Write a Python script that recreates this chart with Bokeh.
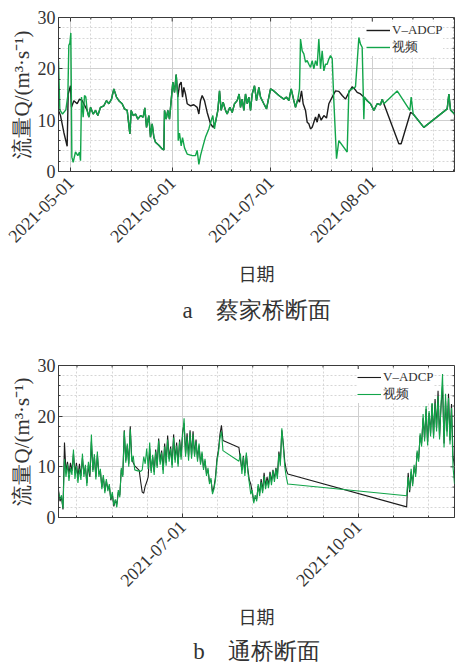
import math
import numpy as np
import pandas as pd
from bokeh.plotting import figure
from bokeh.layouts import column
from bokeh.models import FixedTicker, DatetimeTickFormatter, Range1d, Title
from bokeh.embed import file_html
from bokeh.resources import INLINE

# ---------------- 蔡家桥断面 (days after 2021-05-01, discharge m3/s) ----------------
CAI_ORIGIN = "2021-05-01"
CAI_ADCP_DAY = [-3.66, -3.05, -2.03, -1.02, -0.71, 0.0, 0.30, 1.02, 2.03, 2.74, 3.56,
                5.08, 5.59, 6.10, 6.91, 7.62, 8.33, 9.15, 10.16, 10.98, 11.69, 12.50, 13.21,
                14.02, 14.74, 15.75, 16.46, 17.28, 18.09, 18.50, 19.11, 19.82, 20.53, 21.34,
                22.15, 22.66, 23.17, 23.88, 24.39, 24.90, 25.41, 25.91, 26.93, 27.95, 28.46,
                28.66, 29.17, 29.67, 30.18, 30.69, 31.20, 31.71, 32.22, 32.72,
                33.23, 33.74, 34.15, 34.55, 35.06, 35.57, 36.59, 37.60, 38.62, 39.13, 39.63,
                40.14, 40.85, 41.67, 42.68, 43.50, 44.21,
                44.92, 45.43, 45.93, 46.54, 47.26, 47.76, 48.58, 49.29, 50.00, 50.81, 51.42,
                51.83, 52.34, 52.85, 53.35, 53.86, 54.37, 54.88, 55.39, 56.10, 56.71, 57.42,
                57.93, 58.94, 59.76, 60.47, 60.98, 61.99, 63.52, 65.04, 65.85, 66.57, 67.28,
                68.09, 68.60, 69.31,
                69.82, 70.43, 70.93, 71.65, 72.15, 72.66, 73.17, 73.68, 74.19, 74.70, 75.20,
                75.71, 76.42, 77.24, 78.05, 78.76, 79.78, 80.79, 81.81, 82.83, 83.84, 84.86,
                85.87, 86.59, 87.40, 88.41, 89.43, 90.45,
                91.46, 92.48, 93.50, 94.51, 95.02, 95.53, 100.10, 100.81, 103.66, 104.47,
                107.72, 114.84, 115.35, 115.85, 117.07]
CAI_ADCP_Q = [11.9, 10.9, 7.6, 4.9, 15.1, 16.7, 12.5, 13.8, 13.2, 14.1, 13.8,
              11.9, 10.6, 12.5, 11.2, 11.9, 10.9, 12.5, 12.8, 13.8, 13.2, 14.1, 16.1,
              14.5, 13.8, 13.2, 12.2, 11.9, 7.3, 11.9, 10.9, 11.2, 10.2, 10.9,
              10.6, 12.4, 8.6, 10.9, 6.7, 9.3, 6.7, 5.7, 5.1, 4.4, 4.2,
              11.9, 10.2, 11.9, 10.2, 13.8, 17.4, 15.4, 18.9, 14.5,
              16.9, 17.4, 14.5, 16.4, 15.1, 13.2, 12.8, 13.0, 12.5, 11.2, 13.8,
              14.8, 13.8, 11.5, 9.3, 8.6, 9.6,
              11.9, 15.7, 11.9, 13.5, 11.9, 11.2, 12.5, 11.5, 13.2, 13.8, 15.1,
              12.5, 14.1, 11.9, 15.1, 13.2, 14.5, 11.9, 15.1, 16.7, 13.8, 16.4,
              14.5, 13.2, 12.2, 14.5, 16.1, 15.7, 14.8, 14.1, 14.5, 13.8, 16.1,
              13.8, 12.5, 14.1,
              13.5, 15.7, 13.2, 11.9, 9.6, 9.3, 8.3, 8.6, 9.6, 10.6, 9.6,
              11.2, 10.0, 10.9, 10.4, 13.2, 14.5, 15.7, 15.6, 14.8, 14.1, 15.4,
              16.5, 16.1, 15.4, 15.1, 14.5, 13.8,
              13.2, 11.9, 13.2, 13.0, 14.1, 13.2, 5.4, 5.4, 11.5, 11.2,
              8.6, 12.2, 15.1, 12.0, 11.2]

CAI_VIDEO_DAY = [-3.66, -3.25, -2.44, -1.42, -0.81, -0.51, -0.20, 0.10, 0.41, 0.81, 1.52,
                 2.24, 2.74, 3.05, 3.35, 3.86, 4.27, 4.67,
                 5.08, 5.59, 6.10, 6.91, 7.62, 8.33, 9.15, 10.16, 10.98, 11.69, 12.50, 13.21,
                 14.02, 14.74, 15.75, 16.46, 17.28, 18.09, 18.50, 19.11, 19.82, 20.53, 21.34,
                 22.15, 22.66, 23.17, 23.88, 24.39, 24.90, 25.41, 25.91, 26.93, 27.95, 28.46,
                 28.66, 29.17, 29.67, 30.18, 30.69, 31.20, 31.71, 32.22, 32.72,
                 32.83, 33.23, 33.74, 34.15, 34.76, 35.57, 37.09, 38.11, 38.62, 39.13, 39.63,
                 40.45, 41.16, 42.17, 42.89, 43.39, 43.90,
                 44.21, 44.92, 45.43, 45.93, 46.54, 47.26, 47.76, 48.58, 49.29, 50.00, 50.81,
                 51.42, 51.83, 52.34, 52.85, 53.35, 53.86, 54.37, 54.88, 55.39, 56.10, 56.71,
                 57.42, 57.93, 58.94, 59.76, 60.47, 60.98, 61.99, 63.52, 65.04, 65.85, 66.57,
                 67.28, 68.09, 68.60, 69.31,
                 69.82, 70.12, 70.63, 71.14, 71.65, 72.15, 72.66, 73.17, 73.68, 74.19, 74.70,
                 75.20, 75.71, 76.22, 76.73, 77.24, 77.74, 78.25, 78.76, 79.27, 79.78, 80.28,
                 81.10, 81.81, 84.35, 84.86, 85.87, 86.89, 87.91, 88.41, 88.92, 89.43, 89.63,
                 90.45, 91.46, 92.48, 93.50, 94.51, 95.02, 95.53, 99.59, 103.46, 103.86,
                 104.47, 107.72, 114.84, 115.35, 115.85, 117.07]
CAI_VIDEO_Q = [21.6, 12.0, 11.2, 12.0, 14.8, 24.6, 25.0, 27.0, 2.8, 1.8, 3.8,
               3.1, 3.8, 2.1, 14.5, 10.6, 14.8, 14.5,
               11.9, 10.6, 12.5, 11.2, 11.9, 10.9, 12.5, 12.8, 13.8, 13.2, 14.1, 16.1,
               14.5, 13.8, 13.2, 12.2, 11.9, 7.3, 11.9, 10.9, 11.2, 10.2, 10.9,
               10.6, 12.4, 8.6, 10.9, 6.7, 9.3, 6.7, 5.7, 5.1, 4.4, 4.2,
               11.9, 10.2, 11.9, 10.2, 13.8, 17.4, 15.4, 18.9, 14.5,
               6.0, 7.5, 5.0, 6.6, 4.6, 3.4, 3.1, 3.1, 4.1, 1.4, 3.1,
               5.1, 6.7, 8.3, 9.9, 10.9, 8.3,
               9.6, 11.9, 15.7, 11.9, 13.5, 11.9, 11.2, 12.5, 11.5, 13.2, 13.8,
               15.1, 12.5, 14.1, 11.9, 15.1, 13.2, 14.5, 11.9, 15.1, 16.7, 13.8,
               16.4, 14.5, 13.2, 12.2, 14.5, 16.1, 15.7, 14.8, 14.1, 14.5, 13.8,
               16.1, 13.8, 12.5, 14.1,
               16.1, 25.8, 23.5, 22.9, 21.3, 21.6, 20.9, 20.3, 21.6, 20.0, 21.6,
               20.6, 25.8, 20.0, 23.5, 19.6, 20.9, 20.9, 21.9, 22.6, 22.0, 13.8,
               2.5, 6.0, 3.8, 15.7, 16.1, 16.5, 26.1, 24.8, 24.2, 10.2, 14.5,
               13.8, 13.2, 11.9, 13.2, 13.0, 14.1, 13.2, 15.7, 11.9, 14.5,
               11.2, 8.6, 12.2, 15.1, 12.0, 11.2]

CAI_MONTHS = ["2021-05-01", "2021-06-01", "2021-07-01", "2021-08-01"]
CAI_VIEW = ("2021-04-27 08:10", "2021-08-26 01:40")

# ---------------- 通桥断面 (regularly sampled records in three runs) ----------------
TONG_RUNS = [("2021-04-27 03:00", "2021-07-22 05:00"),
             ("2021-07-30 14:00", "2021-08-25 03:00"),
             ("2021-10-26 09:00", "2021-11-20 10:00")]
TONG_VIDEO_Q = [
    [5.0, 3.6, 4.4, 1.8, 11.5, 8.0, 10.5, 7.2, 9.8, 8.4, 13.4, 7.6, 10.2, 6.8, 9.6, 7.4,
     12.6, 8.0, 10.4, 6.2, 11.0, 8.5, 16.4, 9.0, 12.5, 7.5, 13.0, 8.0, 9.6, 5.6, 8.4, 4.8,
     7.6, 5.2, 6.6, 3.6, 5.0, 2.4, 3.6, 2.0, 5.4, 4.0, 9.8, 8.0, 17.0, 10.8, 14.6, 10.0,
     17.4, 11.0, 12.2, 9.4, 9.3, 9.2, 9.2, 9.1, 9.4, 12.0, 10.6, 13.6, 9.6, 14.8, 8.8, 12.4,
     8.4, 13.0, 9.8, 15.2, 10.4, 12.8, 8.6, 14.0, 10.2, 15.4, 11.0, 13.6, 9.8, 15.8, 10.8,
     14.2, 10.0, 15.0, 11.4, 16.2, 19.6, 12.0, 16.0, 11.2, 16.8, 11.6, 16.4, 12.0, 15.0,
     11.0, 14.6, 10.4, 13.0, 9.4, 11.6, 8.2, 9.8, 6.6, 7.8, 4.6, 5.6, 7.4, 11.0, 12.8,
     15.6, 17.0, 13.2],
    [11.1, 12.6, 8.6, 12.0, 8.2, 12.8, 9.0, 6.8, 4.6, 5.4, 2.8, 4.4, 3.2, 6.6, 4.2, 7.0,
     4.8, 8.2, 5.6, 7.4, 5.8, 8.6, 6.4, 9.2, 7.0, 9.6, 7.6, 12.6, 10.2, 17.6, 14.0, 10.0,
     8.0, 6.6],
    [4.3, 8.0, 5.4, 9.6, 6.2, 10.4, 8.0, 13.2, 11.0, 16.6, 14.0, 20.4, 15.0, 22.0, 14.2,
     21.0, 16.0, 23.0, 15.6, 22.6, 17.0, 24.0, 15.4, 22.4, 28.3, 13.8, 24.4, 16.0, 23.6,
     14.4, 21.6, 10.0, 6.6],
]
TONG_ADCP_Q = [
    [5.4, 3.2, 4.0, 1.6, 14.8, 9.0, 11.0, 8.6, 10.8, 9.2, 12.6, 8.8, 10.8, 8.0, 10.6, 8.2,
     11.8, 8.6, 10.0, 6.8, 10.4, 8.0, 15.0, 9.4, 12.0, 8.0, 12.4, 8.6, 9.2, 6.0, 8.0, 5.2,
     7.2, 5.6, 6.2, 3.4, 4.6, 2.2, 3.4, 2.6, 5.0, 4.4, 9.4, 8.4, 17.2, 11.2, 14.2, 10.6,
     18.0, 11.6, 10.8, 10.2, 9.9, 9.6, 9.3, 7.0, 5.0, 4.8, 6.2, 7.0, 8.0, 13.6, 9.2, 12.0,
     9.0, 13.4, 10.2, 15.6, 11.0, 13.2, 9.4, 14.6, 10.8, 16.2, 11.6, 14.0, 10.4, 16.4, 11.4,
     14.8, 10.6, 15.4, 12.0, 16.8, 18.6, 12.6, 16.6, 12.0, 17.2, 12.2, 17.0, 12.4, 15.4,
     11.6, 14.2, 10.8, 12.6, 9.8, 11.2, 8.6, 9.4, 7.0, 7.4, 5.0, 6.0, 8.0, 11.6, 13.4,
     16.4, 18.2, 15.2],
    [13.8, 11.4, 9.4, 12.2, 8.8, 12.4, 9.6, 7.4, 6.6, 5.0, 3.2, 4.0, 3.6, 6.2, 4.8, 7.6,
     5.2, 8.8, 6.2, 8.0, 6.4, 9.0, 7.0, 9.4, 7.6, 9.8, 8.2, 13.0, 11.0, 17.2, 14.6, 11.0,
     9.4, 8.6],
    [2.1, 8.8, 5.0, 9.0, 6.6, 10.0, 8.6, 12.8, 11.6, 16.2, 14.6, 19.6, 15.6, 21.4, 14.8,
     20.6, 16.6, 22.4, 16.2, 23.4, 17.6, 25.0, 16.0, 22.0, 26.0, 14.6, 23.0, 17.0, 24.4,
     15.2, 22.4, 12.0, 10.2],
]
TONG_QUARTERS = ["2021-07-01", "2021-10-01"]
TONG_VIEW = ("2021-04-27 03:00", "2021-11-20 10:00")

Y_TICKS = [0, 10, 20, 30]
Y_MINOR = [2, 4, 6, 8, 12, 14, 16, 18, 22, 24, 26, 28]

SERIF = "Liberation Serif"
CJK = "Noto Sans CJK SC"
BLACK = "#1c1c1c"
GREEN = "#12a54a"
EDGE = "#3a3a3a"
TEXT = "#333333"


def ms(t):
    return pd.Timestamp(t).value / 1e6


def day_times(origin, days):
    return pd.Timestamp(origin) + pd.to_timedelta(np.asarray(days, dtype=float), unit="D")


def run_times(runs, series):
    parts = [np.asarray(pd.date_range(t0, t1, periods=len(v))) for (t0, t1), v in zip(runs, series)]
    return np.concatenate(parts), np.concatenate([np.asarray(v, float) for v in series])


def minor_between(majors, sub, view, step_days):
    pts = []
    m = [ms(t) for t in majors]
    for a, b in zip(m[:-1], m[1:]):
        pts += list(np.linspace(a, b, sub + 1)[1:-1])
    step = step_days * 86400000.0
    lo, hi = ms(view[0]), ms(view[1])
    v = m[0] - step
    while v >= lo:
        pts.append(v)
        v -= step
    v = m[-1] + step
    while v <= hi:
        pts.append(v)
        v += step
    return m, sorted(pts)


def panel(height, top, bottom, left, view, majors, minors, label_gap):
    xt = FixedTicker(ticks=majors, minor_ticks=minors)
    yt = FixedTicker(ticks=Y_TICKS, minor_ticks=Y_MINOR)
    x0, x1 = ms(view[0]), ms(view[1])
    p = figure(width=455, height=height, x_axis_type="datetime", output_backend="svg",
               toolbar_location=None, x_range=Range1d(x0, x1),
               y_range=Range1d(0, 30), min_border_left=left, min_border_right=1,
               min_border_top=top, min_border_bottom=bottom)
    p.title.visible = False
    p.outline_line_color = EDGE
    p.outline_line_width = 1

    fmt = "%Y-%m-%d"
    p.xaxis.ticker = xt
    p.xaxis.formatter = DatetimeTickFormatter(
        microseconds=fmt, milliseconds=fmt, seconds=fmt, minsec=fmt, minutes=fmt,
        hourmin=fmt, hours=fmt, days=fmt, months=fmt, years=fmt)
    p.xaxis.major_label_orientation = math.pi / 4
    p.yaxis.ticker = yt
    for ax in (p.xaxis[0], p.yaxis[0]):
        ax.axis_line_color = EDGE
        ax.major_tick_line_color = EDGE
        ax.minor_tick_line_color = EDGE
        ax.major_tick_in = 4
        ax.major_tick_out = 0
        ax.minor_tick_in = 2
        ax.minor_tick_out = 0
        ax.major_label_text_font = SERIF
        ax.major_label_text_font_size = "18px"
        ax.major_label_text_color = TEXT
    p.yaxis.major_label_standoff = 3
    p.xaxis.major_label_standoff = label_gap

    p.yaxis.axis_label = "流量Q/(m³·s⁻¹)"
    p.yaxis.axis_label_text_font = SERIF
    p.yaxis.axis_label_text_font_style = "normal"
    p.yaxis.axis_label_text_font_size = "21px"
    p.yaxis.axis_label_text_color = TEXT
    p.yaxis.axis_label_standoff = 1

    # tick marks mirrored on the top and right edges of the box
    p.ray(x=majors, y=30, length=4, angle=-math.pi / 2, length_units="screen",
          color=EDGE, line_width=1)
    p.ray(x=minors, y=30, length=2, angle=-math.pi / 2, length_units="screen",
          color=EDGE, line_width=1)
    p.ray(x=x1, y=Y_TICKS, length=4, angle=math.pi, length_units="screen",
          color=EDGE, line_width=1)
    p.ray(x=x1, y=Y_MINOR, length=2, angle=math.pi, length_units="screen",
          color=EDGE, line_width=1)

    p.xgrid.ticker = xt
    p.ygrid.ticker = yt
    for g in (p.xgrid[0], p.ygrid[0]):
        g.grid_line_color = "#cfcfcf"
        g.grid_line_width = 1
        g.minor_grid_line_color = "#d6d6d6"
        g.minor_grid_line_dash = "2 2"
        g.minor_grid_line_width = 1
    return p


def style_legend(p, loc):
    lg = p.legend[0]
    lg.location = loc
    lg.label_text_font = SERIF
    lg.label_text_font_size = "13px"
    lg.label_text_color = TEXT
    lg.glyph_width = 24
    lg.glyph_height = 14
    lg.label_height = 14
    lg.label_standoff = 2
    lg.spacing = 0
    lg.padding = 2
    lg.margin = 0
    lg.border_line_color = None
    lg.background_fill_color = "white"
    lg.background_fill_alpha = 1


def captions(p, xlabel_shift, xlabel_gap, caption, caption_shift, caption_gap):
    p.add_layout(Title(text="日期", align="center", offset=xlabel_shift, standoff=xlabel_gap,
                       text_font=CJK, text_font_size="18px", text_font_style="normal",
                       text_color=TEXT), "below")
    p.add_layout(Title(text=caption, align="center", offset=caption_shift, standoff=caption_gap,
                       text_font=SERIF, text_font_size="23px", text_font_style="normal",
                       text_color=TEXT), "below")


# ---- panel a ----
a_major, a_minor = minor_between(CAI_MONTHS, 5, CAI_VIEW, 6.2)
pa = panel(340, 17, 169, 58, CAI_VIEW, a_major, a_minor, 8)
pa.line(day_times(CAI_ORIGIN, CAI_ADCP_DAY), CAI_ADCP_Q, color=BLACK, line_width=1.4,
        legend_label="V–ADCP")
pa.line(day_times(CAI_ORIGIN, CAI_VIDEO_DAY), CAI_VIDEO_Q, color=GREEN, line_width=1.4,
        legend_label="视频")
style_legend(pa, (308, 115))
captions(pa, -22, 13, "a\u3000蔡家桥断面", -27, 7)

# ---- panel b ----
b_major, b_minor = minor_between(TONG_QUARTERS, 5, TONG_VIEW, 18.4)
pb = panel(328, 25, 151, 57, TONG_VIEW, b_major, b_minor, 6)
tb, qb_adcp = run_times(TONG_RUNS, TONG_ADCP_Q)
tb2, qb_video = run_times(TONG_RUNS, TONG_VIDEO_Q)
pb.line(tb, qb_adcp, color=BLACK, line_width=1.1, legend_label="V–ADCP")
pb.line(tb2, qb_video, color=GREEN, line_width=1.1, legend_label="视频")
style_legend(pb, (299, 114))
captions(pb, -16, 11, "b\u3000通桥断面", -27, 4)

layout = column(pa, pb, spacing=0)
open("out.html", "w").write(file_html(layout, INLINE))
